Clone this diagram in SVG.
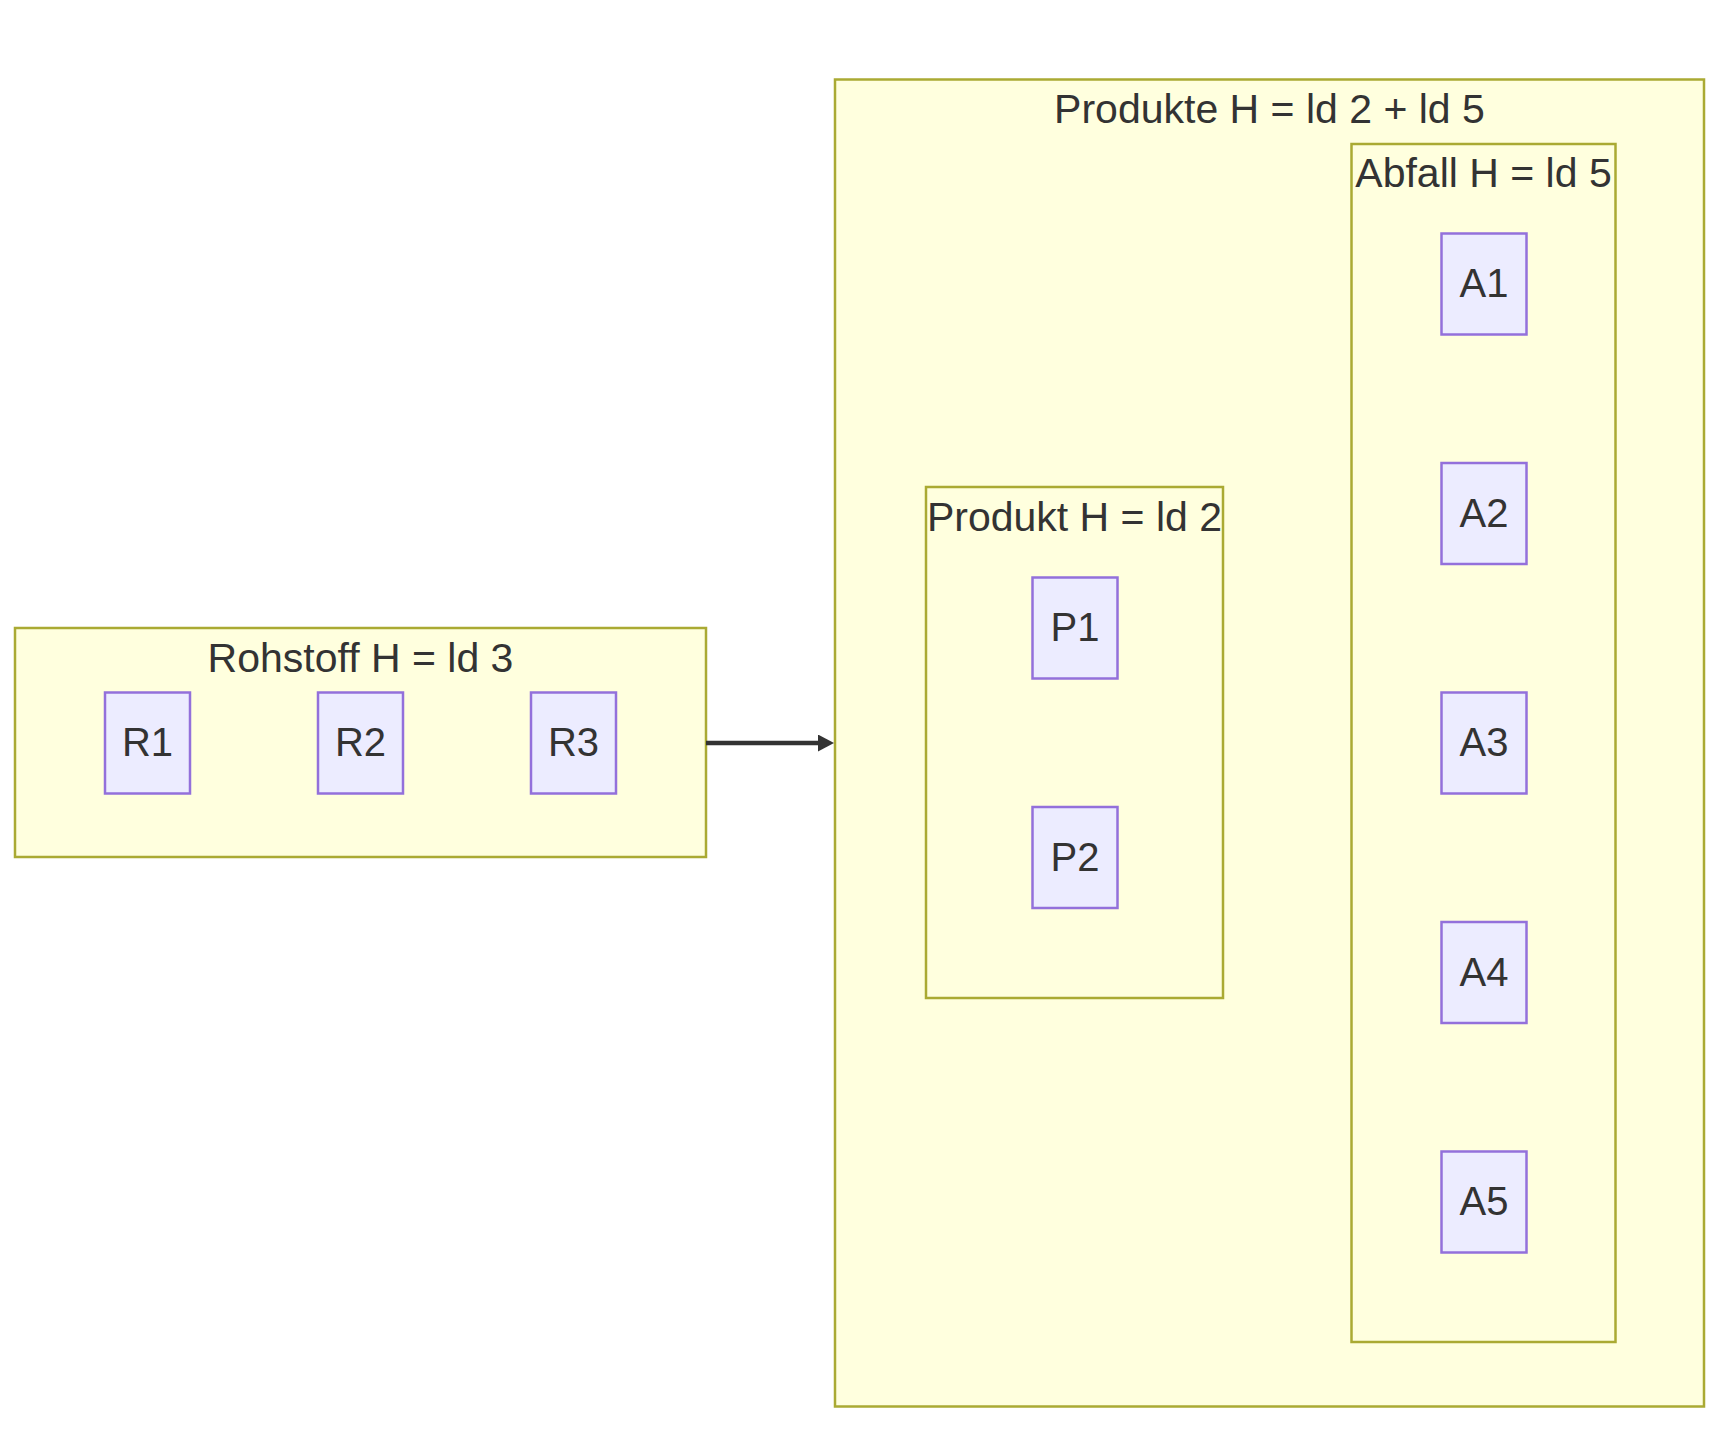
<svg xmlns="http://www.w3.org/2000/svg" width="1730" height="1432" viewBox="0 0 1730 1432">
<style>
.cluster rect{fill:#ffffde;stroke:#aaaa33;stroke-width:2.5}
.cluster text{font-family:"Liberation Sans",Arial,sans-serif;font-size:41px;fill:#333333;text-anchor:middle}
.node rect{fill:#ececff;stroke:#9370db;stroke-width:2.5}
.node text{font-family:"Liberation Sans",Arial,sans-serif;font-size:40px;fill:#333333;text-anchor:middle}
.edge{fill:none;stroke:#333333;stroke-width:4.5}
</style>
<defs>
<marker id="arrow" viewBox="0 0 16 17" markerWidth="16" markerHeight="17" markerUnits="userSpaceOnUse" refX="2" refY="8.5" orient="auto">
<path d="M0,0 L16,8.5 L0,17 z" fill="#333333"/>
</marker>
</defs>
<rect width="1730" height="1432" fill="#ffffff"/>
<g id="clusters">
<g id="Rohstoff" class="cluster"><rect x="15" y="628" width="691" height="229"/><text x="360.5" y="671.5">Rohstoff H = ld 3</text></g>
<g id="Produkte" class="cluster"><rect x="835" y="79.5" width="869" height="1327"/><text x="1269.5" y="123">Produkte H = ld 2 + ld 5</text></g>
<g id="Produkt" class="cluster"><rect x="926" y="487" width="297" height="511"/><text x="1074.5" y="531">Produkt H = ld 2</text></g>
<g id="Abfall" class="cluster"><rect x="1351.5" y="144" width="264" height="1198"/><text x="1483.5" y="187">Abfall H = ld 5</text></g>
</g>
<g id="connectors">
<path class="edge" d="M706,743 L820,743" marker-end="url(#arrow)"/>
</g>
<g id="R1" class="node"><rect x="105" y="692.5" width="85" height="101"/><text x="147.5" y="756">R1</text></g>
<g id="R2" class="node"><rect x="318" y="692.5" width="85" height="101"/><text x="360.5" y="756">R2</text></g>
<g id="R3" class="node"><rect x="531" y="692.5" width="85" height="101"/><text x="573.5" y="756">R3</text></g>
<g id="P1" class="node"><rect x="1032.5" y="577.5" width="85" height="101"/><text x="1075" y="641">P1</text></g>
<g id="P2" class="node"><rect x="1032.5" y="807" width="85" height="101"/><text x="1075" y="870.5">P2</text></g>
<g id="A1" class="node"><rect x="1441.5" y="233.5" width="85" height="101"/><text x="1484" y="297">A1</text></g>
<g id="A2" class="node"><rect x="1441.5" y="463" width="85" height="101"/><text x="1484" y="526.5">A2</text></g>
<g id="A3" class="node"><rect x="1441.5" y="692.5" width="85" height="101"/><text x="1484" y="756">A3</text></g>
<g id="A4" class="node"><rect x="1441.5" y="922" width="85" height="101"/><text x="1484" y="985.5">A4</text></g>
<g id="A5" class="node"><rect x="1441.5" y="1151.5" width="85" height="101"/><text x="1484" y="1215">A5</text></g>
</svg>
